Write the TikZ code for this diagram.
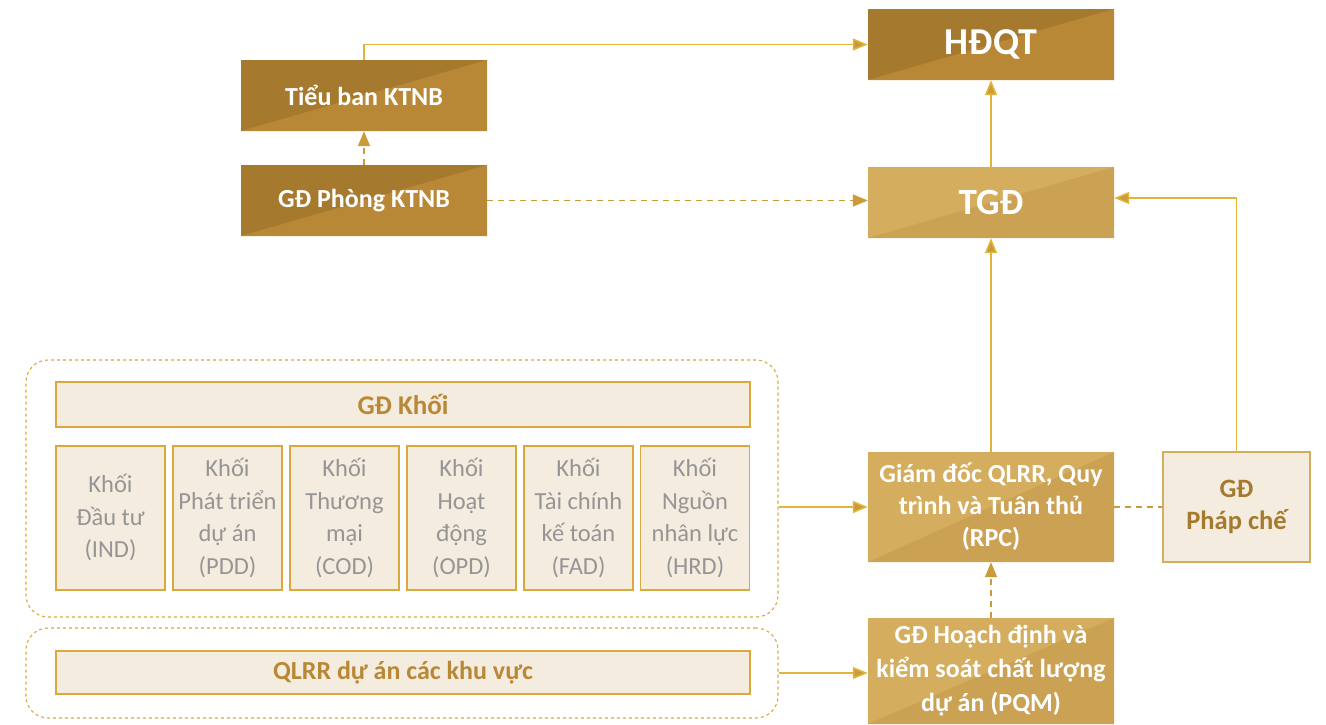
\documentclass[tikz,border=0pt]{standalone}
\usepackage{fontspec}
\setmainfont{Carlito}
\usetikzlibrary{arrows.meta}
\definecolor{darkA}{HTML}{A67A2E}
\definecolor{darkB}{HTML}{B98836}
\definecolor{lightA}{HTML}{D4AE5E}
\definecolor{lightB}{HTML}{CBA253}
\definecolor{cream}{HTML}{F5ECE0}
\definecolor{gborder}{HTML}{D9A93D}
\definecolor{linec}{HTML}{E3B43A}
\definecolor{dashc}{HTML}{C99B3A}
\definecolor{headc}{HTML}{B98836}
\definecolor{greyt}{HTML}{959595}
\tikzset{
  twotone/.style 2 args={fill=#1, draw=none, inner sep=0pt, text=white, align=center,
    path picture={\fill[#2] (path picture bounding box.south west) -- (path picture bounding box.north east) -- (path picture bounding box.south east) -- cycle;}},
  darkbox/.style={twotone={darkA}{darkB}},
  lightbox/.style={twotone={lightA}{lightB}},
  creambox/.style={fill=cream, draw=gborder, line width=1.2pt, inner sep=0pt, align=center},
  unitbox/.style={creambox, minimum width=109, minimum height=144, text=greyt, font=\fontsize{24.5}{32.5}\selectfont},
  grpbox/.style={draw=gborder, dashed, line width=1.1pt, rounded corners=22pt, minimum width=752, inner sep=0pt},
  conn/.style={draw=linec, line width=1.5pt, -{Triangle[width=12pt,length=15pt,fill=dashc]}},
  dconn/.style={draw=dashc, line width=1.5pt, dash pattern=on 6pt off 5pt, -{Triangle[width=12pt,length=15pt]}},
  dline/.style={draw=dashc, line width=1.5pt, dash pattern=on 6pt off 5pt},
}
\begin{document}
\begin{tikzpicture}[x=1pt,y=-1pt]
\fill[white] (0,0) rectangle (1326,724);
\useasboundingbox (0,0) rectangle (1326,724);
% top boxes
\node[darkbox, minimum width=246, minimum height=71, font=\fontsize{38}{42}\selectfont\bfseries] (hdqt) at (991,44.5) {HĐQT};
\node[lightbox, minimum width=246, minimum height=71, font=\fontsize{37}{42}\selectfont\bfseries] (tgd) at (991,202.5) {TGĐ};
\node[darkbox, minimum width=246, minimum height=71, font=\fontsize{26}{30}\selectfont\bfseries] (tieuban) at (364,95.5) {Tiểu ban KTNB};
\node[darkbox, minimum width=246, minimum height=71, font=\fontsize{26}{30}\selectfont\bfseries] (gdphong) at (364,200.5) {GĐ Phòng KTNB};
% right column
\node[lightbox, minimum width=246, minimum height=110, font=\fontsize{26}{32}\selectfont\bfseries] (rpc) at (991,507) {Giám đốc QLRR, Quy\\trình và Tuân thủ\\(RPC)};
\node[creambox, draw=lightA, minimum width=147, minimum height=110, text=darkA, font=\fontsize{26.5}{32}\selectfont\bfseries] (phapche) at (1236.5,507) {GĐ\\Pháp chế};
\node[lightbox, minimum width=246, minimum height=106, font=\fontsize{26}{34}\selectfont\bfseries] (pqm) at (991,671) {GĐ Hoạch định và\\kiểm soát chất lượng\\dự án (PQM)};
% groups
\node[grpbox, minimum height=257] (grp1) at (402,488.5) {};
\node[grpbox, minimum height=90] (grp2) at (402,673) {};
\node[creambox, minimum width=694, minimum height=45, text=headc, font=\fontsize{27}{30}\selectfont\bfseries] (gdkhoi) at (403,404.5) {GĐ Khối};
\node[creambox, minimum width=694, minimum height=43, text=headc, font=\fontsize{26}{30}\selectfont\bfseries] (qlrr) at (403,672.5) {QLRR dự án các khu vực};
\node[unitbox] (ind) at (110.5,518) {Khối\\Đầu tư\\(IND)};
\node[unitbox] (pdd) at (227.5,518) {Khối\\Phát triển\\dự án\\(PDD)};
\node[unitbox] (cod) at (344.5,518) {Khối\\Thương\\mại\\(COD)};
\node[unitbox] (opd) at (461.5,518) {Khối\\Hoạt\\động\\(OPD)};
\node[unitbox] (fad) at (578.5,518) {Khối\\Tài chính\\kế toán\\(FAD)};
\node[unitbox] (hrd) at (695,518) {Khối\\Nguồn\\nhân lực\\(HRD)};
% connectors
\draw[conn] (tieuban.north) |- (hdqt.west);
\draw[dconn] (gdphong.north) -- (tieuban.south);
\draw[dconn] (gdphong.east) -- (gdphong.east -| tgd.west);
\draw[conn] (tgd.north) -- (hdqt.south);
\draw[conn] (rpc.north) -- (tgd.south);
\draw[conn] (phapche.north) |- ([yshift=4.5]tgd.east);
\draw[dline] (rpc.east) -- (phapche.west);
\draw[dconn] (pqm.north) -- (rpc.south);
\draw[conn] (grp1.east |- rpc.west) -- (rpc.west);
\draw[conn] (grp2.east) -- (grp2.east -| pqm.west);
\end{tikzpicture}
\end{document}
